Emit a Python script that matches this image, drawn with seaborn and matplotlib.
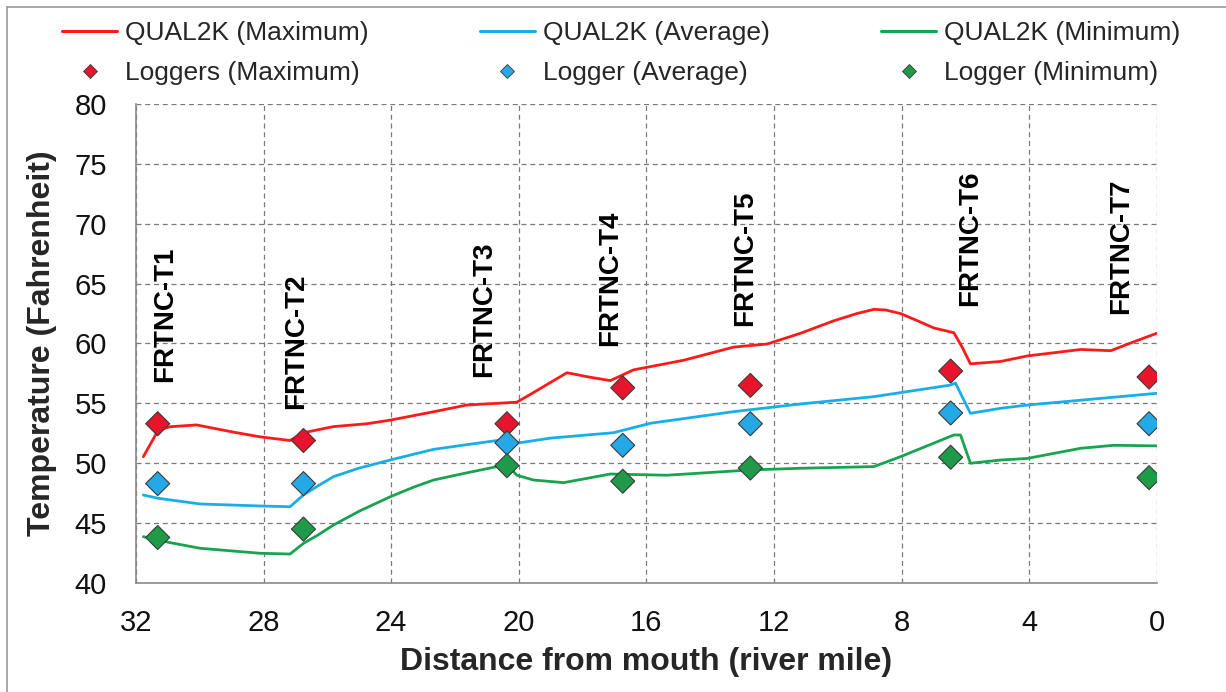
import numpy as np
import pandas as pd
import matplotlib
matplotlib.use("Agg")
import matplotlib.pyplot as plt
import seaborn as sns
from matplotlib.lines import Line2D
from matplotlib.ticker import MultipleLocator

# QUAL2K simulated profiles (river mile, deg F)
max_mile = [31.77, 31.30, 30.93, 30.10, 28.95, 28.10, 27.17, 26.75, 25.81, 24.76,
            24.03, 22.67, 21.63, 20.06, 19.54, 18.49, 17.86, 17.13, 16.40, 14.83,
            13.26, 12.21, 11.17, 10.12, 9.40, 8.87, 8.50, 8.03, 7.50, 6.99, 6.36,
            6.10, 5.84, 4.89, 4.06, 2.38, 1.44, 0.71, 0.00]
max_temp = [50.55, 52.78, 53.05, 53.20, 52.60, 52.20, 51.90, 52.55, 53.06, 53.30,
            53.60, 54.30, 54.86, 55.10, 55.90, 57.56, 57.23, 56.90, 57.80, 58.60,
            59.70, 59.96, 60.85, 61.90, 62.50, 62.85, 62.80, 62.50, 61.90, 61.30,
            60.90, 59.70, 58.30, 58.50, 58.96, 59.50, 59.40, 60.15, 60.85]

avg_mile = [31.77, 31.30, 29.99, 28.10, 27.17, 26.75, 26.30, 25.81, 25.00, 24.03,
            23.30, 22.67, 21.50, 20.40, 20.00, 19.00, 17.03, 15.87, 13.26, 11.17,
            8.87, 6.46, 6.31, 6.10, 5.84, 4.89, 4.06, 0.00]
avg_temp = [47.35, 47.07, 46.60, 46.43, 46.37, 47.35, 48.10, 48.88, 49.60, 50.27,
            50.75, 51.16, 51.60, 52.00, 51.70, 52.10, 52.55, 53.34, 54.31, 54.95,
            55.56, 56.53, 56.70, 55.56, 54.17, 54.59, 54.86, 55.84]

min_mile = [31.77, 30.93, 29.99, 28.10, 27.17, 26.75, 26.30, 25.81, 25.00, 24.03,
            23.30, 22.67, 21.63, 20.90, 20.37, 20.06, 19.54, 18.59, 17.13, 15.35,
            12.74, 11.17, 8.87, 8.03, 6.36, 6.15, 5.84, 4.89, 4.06, 2.38, 1.34, 0.00]
min_temp = [43.87, 43.37, 42.90, 42.48, 42.42, 43.31, 44.00, 44.84, 46.00, 47.20,
            48.00, 48.60, 49.20, 49.60, 49.90, 49.00, 48.60, 48.38, 49.10, 49.00,
            49.44, 49.58, 49.72, 50.55, 52.36, 52.36, 50.00, 50.27, 50.40, 51.25,
            51.50, 51.45]

# Temperature logger observations
stations = ["FRTNC-T1", "FRTNC-T2", "FRTNC-T3", "FRTNC-T4", "FRTNC-T5", "FRTNC-T6", "FRTNC-T7"]
station_mile = [31.32, 26.75, 20.37, 16.74, 12.74, 6.46, 0.24]
logger_max = [53.3, 51.9, 53.3, 56.3, 56.5, 57.7, 57.2]
logger_avg = [48.3, 48.3, 51.7, 51.5, 53.3, 54.2, 53.3]
logger_min = [43.8, 44.5, 49.8, 48.5, 49.6, 50.5, 48.8]

# Where each station name sits (mile, temperature at the text's lower end)
label_mile = [31.09, 26.97, 21.08, 17.13, 12.89, 5.84, 1.13]
label_temp = [56.8, 54.5, 57.2, 59.8, 61.5, 63.1, 62.5]

model_names = ["QUAL2K (Maximum)", "QUAL2K (Average)", "QUAL2K (Minimum)"]
logger_names = ["Loggers (Maximum)", "Logger (Average)", "Logger (Minimum)"]
line_colors = ["#ff1a1a", "#19aee8", "#17a350"]
marker_colors = ["#e8142c", "#25a8e6", "#1e9a48"]

model_df = pd.concat([
    pd.DataFrame({"mile": max_mile, "temp": max_temp, "series": model_names[0]}),
    pd.DataFrame({"mile": avg_mile, "temp": avg_temp, "series": model_names[1]}),
    pd.DataFrame({"mile": min_mile, "temp": min_temp, "series": model_names[2]}),
], ignore_index=True)

logger_df = pd.concat([
    pd.DataFrame({"mile": station_mile, "temp": logger_max, "series": logger_names[0]}),
    pd.DataFrame({"mile": station_mile, "temp": logger_avg, "series": logger_names[1]}),
    pd.DataFrame({"mile": station_mile, "temp": logger_min, "series": logger_names[2]}),
], ignore_index=True)

sns.set_theme(style="white")
plt.rcParams["font.family"] = ["Liberation Sans", "DejaVu Sans"]

fig = plt.figure(figsize=(12.26, 6.92), dpi=100)
fig.patch.set_facecolor("white")
ax = fig.add_axes([136 / 1226, 1 - 583 / 692, (1156.7 - 136) / 1226, (583 - 104) / 692])

sns.lineplot(data=model_df, x="mile", y="temp", hue="series",
             palette=dict(zip(model_names, line_colors)), estimator=None,
             sort=False, linewidth=2.0, legend=False, ax=ax, zorder=3)
sns.scatterplot(data=logger_df, x="mile", y="temp", hue="series",
                palette=dict(zip(logger_names, marker_colors)), marker="D",
                s=150, edgecolor="#3a3a3a", linewidth=0.8, legend=False,
                ax=ax, zorder=4)

for name, xm, yt in zip(stations, label_mile, label_temp):
    ax.text(xm, yt, name, rotation=90, ha="center", va="bottom",
            fontsize=20, fontweight="bold", color="black", zorder=5)

ax.set_xlim(32, 0)
ax.set_ylim(40, 80)
ax.xaxis.set_major_locator(MultipleLocator(4))
ax.xaxis.set_minor_locator(MultipleLocator(1))
ax.yaxis.set_major_locator(MultipleLocator(5))
ax.yaxis.set_minor_locator(MultipleLocator(1))

ax.grid(True, which="major", color="#7a7a7a", linestyle=(0, (4, 3)), linewidth=0.9)
ax.set_axisbelow(True)
for side in ["top", "right"]:
    ax.spines[side].set_visible(False)
for side in ["left", "bottom"]:
    ax.spines[side].set_color("#8a8a8a")
    ax.spines[side].set_linewidth(1.2)

ax.tick_params(axis="both", which="major", direction="in", length=7,
               color="#8a8a8a", labelsize=21, labelcolor="#111111")
ax.tick_params(axis="both", which="minor", direction="in", length=4,
               color="#8a8a8a")
ax.tick_params(axis="y", which="major", pad=21)
ax.tick_params(axis="x", which="major", pad=19)

ax.set_xlabel("Distance from mouth (river mile)", fontsize=23, fontweight="bold")
ax.set_ylabel("Temperature (Fahrenheit)", fontsize=23, fontweight="bold")
ax.xaxis.set_label_coords(0.5, -0.133)
ax.yaxis.set_label_coords(-0.077, 0.5)

handles, labels = [], []
for mname, lname, lc, mc in zip(model_names, logger_names, line_colors, marker_colors):
    handles.append(Line2D([], [], color=lc, linewidth=2.2))
    labels.append(mname)
    handles.append(Line2D([], [], linestyle="none", marker="D", markersize=7.5,
                          markerfacecolor=mc, markeredgecolor="#3a3a3a",
                          markeredgewidth=0.6))
    labels.append(lname)

fig.legend(handles, labels, ncol=3, loc="upper left",
           bbox_to_anchor=(62 / 1226, 1 - 21 / 692), frameon=False,
           fontsize=19, handlelength=2.1, handletextpad=0.3,
           columnspacing=4.2, labelspacing=0.6, borderpad=0, borderaxespad=0)

# thin frame along the top and left of the figure
fig.add_artist(Line2D([7 / 1226, 1], [1 - 7 / 692, 1 - 7 / 692],
                      transform=fig.transFigure, color="#9a9a9a", linewidth=1.2))
fig.add_artist(Line2D([7 / 1226, 7 / 1226], [0, 1 - 7 / 692],
                      transform=fig.transFigure, color="#9a9a9a", linewidth=1.2))

fig.savefig("out.png", dpi=100, facecolor="white")
